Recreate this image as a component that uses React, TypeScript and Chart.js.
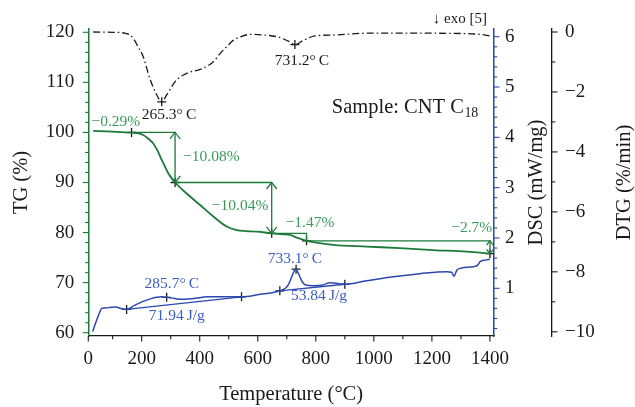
import React, { useEffect, useRef } from 'react';
import { Chart, registerables } from 'chart.js';

Chart.register(...registerables);

// ---------------- data ----------------
// TG curve (temperature °C, mass %)
const tgTemp = [33, 100, 165, 190, 205, 222, 240, 255, 269, 280, 292, 315, 355, 401, 447, 493, 527, 560, 596, 648, 690, 712, 726, 740, 768, 860, 975, 1090, 1205, 1320, 1400];
const tgVal = [100.3, 100.15, 99.95, 99.8, 99.5, 98.8, 97.8, 96.3, 94.5, 93.2, 91.8, 90.0, 87.8, 85.5, 83.2, 81.2, 80.5, 80.3, 80.2, 79.85, 79.65, 79.55, 79.2, 78.9, 78.35, 77.55, 77.2, 76.9, 76.5, 76.2, 75.8];

// DSC curve (temperature °C, mW/mg)
const dscTemp = [31, 38, 45, 55, 62, 75, 91, 110, 128, 148, 175, 205, 230, 252, 270, 286, 310, 340, 365, 395, 424, 480, 544, 608, 650, 676, 695, 705, 715, 722, 728, 732, 737, 745, 752, 763, 791, 820, 849, 872, 888, 900, 975, 1067, 1159, 1251, 1268, 1276, 1286, 1300, 1342, 1358, 1366, 1385, 1400];
const dscVal = [0.14, 0.26, 0.37, 0.52, 0.60, 0.61, 0.62, 0.63, 0.60, 0.58, 0.66, 0.74, 0.79, 0.82, 0.83, 0.82, 0.80, 0.78, 0.79, 0.81, 0.83, 0.83, 0.83, 0.88, 0.91, 0.95, 1.00, 1.07, 1.20, 1.30, 1.37, 1.38, 1.33, 1.23, 1.14, 1.07, 1.05, 1.06, 1.11, 1.10, 1.08, 1.08, 1.15, 1.23, 1.29, 1.33, 1.32, 1.24, 1.36, 1.40, 1.43, 1.46, 1.53, 1.56, 1.58];

// DTG curve (temperature °C, %/min)
const dtgTemp = [33, 100, 142, 160, 171, 185, 205, 228, 252, 269, 286, 305, 320, 355, 412, 447, 470, 493, 515, 540, 575, 620, 671, 711, 728, 757, 797, 866, 975, 1147, 1300, 1366, 1400];
const dtgVal = [0.0, -0.01, -0.04, -0.1, -0.21, -0.45, -0.82, -1.55, -2.1, -2.33, -2.1, -1.8, -1.6, -1.38, -1.21, -0.99, -0.72, -0.49, -0.28, -0.16, -0.08, -0.1, -0.17, -0.33, -0.42, -0.28, -0.13, -0.1, -0.04, -0.04, -0.05, -0.08, -0.13];

// marked points
const tgMarkT = [165, 315, 648, 768, 1400];
const tgMarkV = [100.0, 90.0, 79.85, 78.35, 75.8];
const stepArrow = [true, true, false, true];
const dscMarkT = [148, 286, 544, 676, 732, 900];
const dscMarkV = [0.58, 0.82, 0.83, 0.95, 1.38, 1.08];
const dscBase1T = [148, 544];
const dscBase1V = [0.58, 0.83];
const dscBase2T = [676, 900];
const dscBase2V = [0.95, 1.08];
const dtgMarkT = [269, 728];
const dtgMarkV = [-2.33, -0.42];

// axis ranges & tick labels
const xMin = 16;
const xMax = 1414;
const xMinorStep = 100;
const xTickVals = [16, 200, 400, 600, 800, 1000, 1200, 1400];
const xTickLabels = ['0', '200', '400', '600', '800', '1000', '1200', '1400'];
const tgMin = 59.34, tgMax = 120.66;
const tgTickVals = [60, 70, 80, 90, 100, 110, 120];
const tgTickLabels = ['60', '70', '80', '90', '100', '110', '120'];
const tgMinorStep = 2;
const dscMin = 0.052, dscMax = 6.153;
const dscTickVals = [1, 2, 3, 4, 5, 6];
const dscTickLabels = ['1', '2', '3', '4', '5', '6'];
const dscMinorStep = 0.2;
const dtgMin = -10.14, dtgMax = 0.1;
const dtgTickVals = [0, -2, -4, -6, -8, -10];
const dtgTickLabels = ['0', '\u22122', '\u22124', '\u22126', '\u22128', '\u221210'];
const dtgMinorStep = 1;

// text annotations (anchored in data units)
const annotations = [
  { text: '\u22120.29%', t: 111, v: 102.0, axis: 'y', kind: 'tg' },
  { text: '\u221210.08%', t: 440, v: 95.1, axis: 'y', kind: 'tg' },
  { text: '\u221210.04%', t: 539, v: 85.3, axis: 'y', kind: 'tg' },
  { text: '\u22121.47%', t: 780, v: 82.0, axis: 'y', kind: 'tg' },
  { text: '\u22122.7%', t: 1337, v: 80.9, axis: 'y', kind: 'tg' },
  { text: '265.3\u00B0\u2009C', t: 294, v: -2.77, axis: 'dtg', kind: 'dtg' },
  { text: '731.2\u00B0\u2009C', t: 752, v: -0.97, axis: 'dtg', kind: 'dtg' },
  { text: '285.7\u00B0\u2009C', t: 304, v: 1.085, axis: 'dsc', kind: 'dsc' },
  { text: '71.94\u2009J/g', t: 321, v: 0.45, axis: 'dsc', kind: 'dsc' },
  { text: '733.1\u00B0\u2009C', t: 728, v: 1.58, axis: 'dsc', kind: 'dsc' },
  { text: '53.84\u2009J/g', t: 811, v: 0.85, axis: 'dsc', kind: 'dsc' },
];
const sampleText = 'Sample: CNT C';
const sampleSub = '18';
const sampleT = 855;
const sampleV = 104.9;
const exoText = '\u2193 exo [5]';
const xTitle = 'Temperature (\u00B0C)';
const tgTitle = 'TG (%)';
const dscTitle = 'DSC (mW/mg)';
const dtgTitle = 'DTG (%/min)';

// ---------------- styles ----------------
const FONT = '"Liberation Serif", "Times New Roman", serif';
const GREEN = '#1d7b3a';
const GREEN_TEXT = '#3a9a5c';
const BLUE = '#2a48ae';
const BLUE_TEXT = '#3b5cc0';
const BLACK = '#1a1a1a';
const TICK_SIZE = 19;
const TITLE_SIZE = 20.5;
const ANNOT_SIZE = 15.5;

const pts = (xs: number[], ys: number[]) => xs.map((x, i) => ({ x, y: ys[i] }));

function stepList(min: number, max: number, step: number) {
  const out: number[] = [];
  const start = Math.ceil(min / step - 1e-9);
  for (let k = start; k * step <= max + 1e-9; k++) out.push(Math.round(k * step * 1000) / 1000);
  return out;
}

function labelFor(vals: number[], labels: string[]) {
  return (value: number) => {
    const i = vals.findIndex((v) => Math.abs(v - value) < 1e-6);
    return i >= 0 ? labels[i] : '';
  };
}

const tickDefs = [
  { id: 'x', majors: xTickVals, minors: stepList(100, 1400, xMinorStep), color: BLACK, side: 'bottom' },
  { id: 'y', majors: tgTickVals, minors: stepList(60, 120, tgMinorStep), color: GREEN, side: 'left' },
  { id: 'dsc', majors: dscTickVals, minors: stepList(0.2, 6, dscMinorStep), color: BLUE, side: 'right' },
  { id: 'dtg', majors: dtgTickVals, minors: stepList(-10, 0, dtgMinorStep), color: BLACK, side: 'right' },
];

const tickPlugin = {
  id: 'customTicks',
  afterDraw(chart: any) {
    const ctx = chart.ctx;
    ctx.save();
    ctx.lineWidth = 1.1;
    for (const d of tickDefs) {
      const s = chart.scales[d.id];
      ctx.strokeStyle = d.color;
      const all = new Set<number>([...d.minors, ...d.majors]);
      all.forEach((v) => {
        const major = d.majors.some((m) => Math.abs(m - v) < 1e-6);
        const len = major ? 5.5 : 3.2;
        const p = s.getPixelForValue(v);
        ctx.beginPath();
        if (d.side === 'bottom') {
          ctx.moveTo(p, s.top);
          ctx.lineTo(p, s.top + len);
        } else if (d.side === 'left') {
          ctx.moveTo(s.right - len, p);
          ctx.lineTo(s.right, p);
        } else {
          ctx.moveTo(s.left, p);
          ctx.lineTo(s.left + len, p);
        }
        ctx.stroke();
      });
    }
    ctx.restore();
  },
};

function arrowHead(ctx: any, x: number, y: number, dir: number, size: number) {
  // dir = -1 pointing up, +1 pointing down
  ctx.beginPath();
  ctx.moveTo(x - size * 0.8, y - dir * size);
  ctx.lineTo(x, y);
  ctx.lineTo(x + size * 0.8, y - dir * size);
  ctx.stroke();
}

const annotPlugin = {
  id: 'annotations',
  afterDatasetsDraw(chart: any) {
    const { ctx, scales, chartArea } = chart;
    const xs = scales.x;
    const tg = scales.y;
    ctx.save();
    // TG step construction
    ctx.strokeStyle = GREEN;
    ctx.lineWidth = 1.3;
    for (let i = 0; i < tgMarkT.length - 1; i++) {
      const x0 = xs.getPixelForValue(tgMarkT[i]);
      const x1 = xs.getPixelForValue(tgMarkT[i + 1]);
      const y0 = tg.getPixelForValue(tgMarkV[i]);
      const y1 = tg.getPixelForValue(tgMarkV[i + 1]);
      ctx.beginPath();
      ctx.moveTo(x0, y0);
      ctx.lineTo(x1, y0);
      ctx.lineTo(x1, y1);
      ctx.stroke();
      if (stepArrow[i]) {
        const size = Math.min(6.5, Math.abs(y1 - y0) / 3);
        arrowHead(ctx, x1, y0, -1, size);
        arrowHead(ctx, x1, y1, 1, size);
      }
    }
    // texts
    ctx.textBaseline = 'middle';
    ctx.textAlign = 'center';
    ctx.font = `${ANNOT_SIZE}px ${FONT}`;
    for (const a of annotations) {
      ctx.fillStyle = a.kind === 'tg' ? GREEN_TEXT : a.kind === 'dsc' ? BLUE_TEXT : BLACK;
      ctx.fillText(a.text, xs.getPixelForValue(a.t), scales[a.axis].getPixelForValue(a.v));
    }
    // sample label
    ctx.fillStyle = BLACK;
    ctx.textAlign = 'left';
    ctx.font = `${TITLE_SIZE}px ${FONT}`;
    const sx = xs.getPixelForValue(sampleT);
    const sy = tg.getPixelForValue(sampleV);
    ctx.fillText(sampleText, sx, sy);
    const w = ctx.measureText(sampleText).width;
    ctx.font = `${TITLE_SIZE * 0.68}px ${FONT}`;
    ctx.fillText(sampleSub, sx + w + 0.5, sy + 5);
    // exo label
    ctx.font = `15px ${FONT}`;
    ctx.textAlign = 'right';
    ctx.fillText(exoText, chartArea.right - 7, chartArea.top - 10);
    ctx.restore();
  },
  afterDraw(chart: any) {
    const { ctx, chartArea } = chart;
    const cy = (chartArea.top + chartArea.bottom) / 2;
    ctx.save();
    ctx.fillStyle = BLACK;
    ctx.font = `${TITLE_SIZE}px ${FONT}`;
    ctx.textAlign = 'center';
    ctx.textBaseline = 'middle';
    const titles: [string, number][] = [
      [dscTitle, chart.scales.dsc.left + 43],
      [dtgTitle, chart.scales.dtg.left + 73],
    ];
    for (const [t, x] of titles) {
      ctx.save();
      ctx.translate(x, cy);
      ctx.rotate(-Math.PI / 2);
      ctx.fillText(t, 0, 0);
      ctx.restore();
    }
    ctx.restore();
  },
};

const tickFont = { family: FONT, size: TICK_SIZE };
const titleFont = { family: FONT, size: TITLE_SIZE };
const grid = { drawOnChartArea: false, drawTicks: true, tickLength: 5, tickColor: 'rgba(0,0,0,0)' };

function minorTicksFor(vals: number[]) {
  return (s: any) => {
    s.ticks = vals.map((v) => ({ value: v }));
  };
}

export default function App() {
  const ref = useRef<HTMLCanvasElement>(null);
  useEffect(() => {
    const markerStyle = {
      showLine: false,
      pointStyle: 'cross',
      pointRadius: 4.5,
      pointBorderWidth: 1.3,
      borderColor: BLACK,
      backgroundColor: BLACK,
      pointBorderColor: BLACK,
    };
    const chart = new Chart(ref.current as HTMLCanvasElement, {
      type: 'scatter',
      data: {
        datasets: [
          { data: pts(dscBase1T, dscBase1V), yAxisID: 'dsc', showLine: true, borderColor: BLUE, borderWidth: 1.3, pointRadius: 0 },
          { data: pts(dscBase2T, dscBase2V), yAxisID: 'dsc', showLine: true, borderColor: BLUE, borderWidth: 1.3, pointRadius: 0 },
          { data: pts(dscTemp, dscVal), yAxisID: 'dsc', showLine: true, borderColor: BLUE, borderWidth: 1.5, pointRadius: 0, cubicInterpolationMode: 'monotone' },
          { data: pts(tgTemp, tgVal), yAxisID: 'y', showLine: true, borderColor: GREEN, borderWidth: 1.8, pointRadius: 0, cubicInterpolationMode: 'monotone' },
          { data: pts(dtgTemp, dtgVal), yAxisID: 'dtg', showLine: true, borderColor: BLACK, borderWidth: 1.3, borderDash: [7, 3, 1.5, 3], pointRadius: 0, cubicInterpolationMode: 'monotone' },
          { data: pts(tgMarkT, tgMarkV), yAxisID: 'y', ...markerStyle },
          { data: pts(dscMarkT, dscMarkV), yAxisID: 'dsc', ...markerStyle },
          { data: pts(dtgMarkT, dtgMarkV), yAxisID: 'dtg', ...markerStyle },
        ] as any,
      },
      options: {
        responsive: true,
        maintainAspectRatio: false,
        animation: false,
        devicePixelRatio: 1,
        layout: { padding: { top: 29, left: 0, right: 0, bottom: 0 } },
        plugins: { legend: { display: false }, tooltip: { enabled: false } },
        scales: {
          x: {
            type: 'linear',
            position: 'bottom',
            min: xMin,
            max: xMax,
            afterBuildTicks: minorTicksFor(xTickVals),
            afterFit: (s: any) => { s.height = 71; },
            ticks: { autoSkip: false, maxRotation: 0, padding: 7, color: BLACK, font: tickFont, callback: labelFor(xTickVals, xTickLabels) },
            grid,
            border: { display: true, color: BLACK, width: 1.3 },
            title: { display: true, text: xTitle, color: BLACK, font: titleFont, padding: { top: 0, bottom: 0 } },
          },
          y: {
            type: 'linear',
            position: 'left',
            min: tgMin,
            max: tgMax,
            afterBuildTicks: minorTicksFor(tgTickVals),
            afterFit: (s: any) => { s.width = 88.3; },
            ticks: { autoSkip: false, padding: 9, color: BLACK, font: tickFont, callback: labelFor(tgTickVals, tgTickLabels) },
            grid,
            border: { display: true, color: GREEN, width: 1.5 },
            title: { display: true, text: tgTitle, color: BLACK, font: titleFont, padding: { top: 9, bottom: 0 } },
          },
          dsc: {
            type: 'linear',
            position: 'right',
            weight: 0,
            min: dscMin,
            max: dscMax,
            afterBuildTicks: minorTicksFor(dscTickVals),
            afterFit: (s: any) => { s.width = 58; },
            ticks: { autoSkip: false, padding: 6, color: BLACK, font: tickFont, callback: labelFor(dscTickVals, dscTickLabels) },
            grid,
            border: { display: true, color: BLUE, width: 1.5 },
          },
          dtg: {
            type: 'linear',
            position: 'right',
            weight: 1,
            min: dtgMin,
            max: dtgMax,
            afterBuildTicks: minorTicksFor(dtgTickVals),
            afterFit: (s: any) => { s.width = 83; },
            ticks: { autoSkip: false, padding: 8, color: BLACK, font: tickFont, callback: labelFor(dtgTickVals, dtgTickLabels) },
            grid,
            border: { display: true, color: BLACK, width: 1.3 },
          },
        } as any,
      },
      plugins: [annotPlugin, tickPlugin],
    } as any);
    return () => chart.destroy();
  }, []);
  return (
    <div style={{ position: 'absolute', left: 0, top: 0, width: 635, height: 407, background: '#fff' }}>
      <canvas ref={ref} />
    </div>
  );
}
